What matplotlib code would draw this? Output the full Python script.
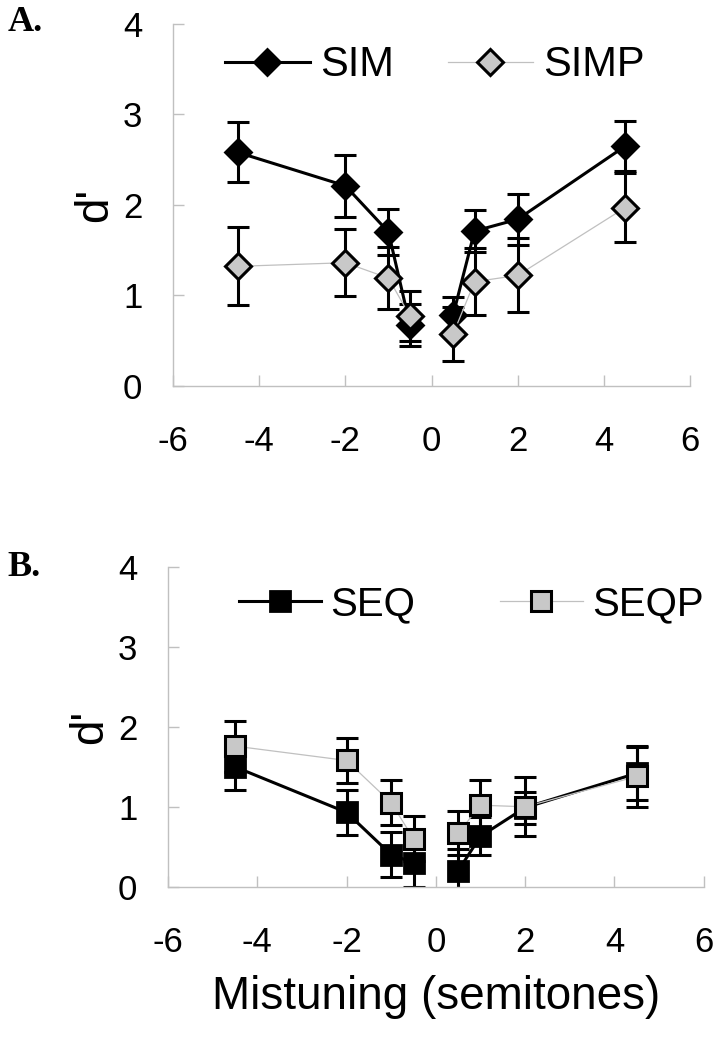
import matplotlib
matplotlib.use("Agg")
import matplotlib.pyplot as plt
import numpy as np

plt.rcParams['font.family'] = ['Liberation Sans', 'DejaVu Sans']
plt.rcParams['axes.unicode_minus'] = False

# mistuning values (semitones)
mistuning = [-4.5, -2, -1, -0.5, 0.5, 1, 2, 4.5]

# panel A
sim = [2.58, 2.21, 1.70, 0.67, 0.78, 1.71, 1.84, 2.65]
sim_err = [0.33, 0.34, 0.25, 0.23, 0.20, 0.23, 0.28, 0.28]
simp = [1.32, 1.36, 1.19, 0.77, 0.57, 1.15, 1.22, 1.97]
simp_err = [0.43, 0.37, 0.34, 0.28, 0.30, 0.37, 0.41, 0.38]

# panel B
seq = [1.50, 0.93, 0.40, 0.30, 0.20, 0.63, 0.99, 1.42]
seq_err = [0.29, 0.28, 0.28, 0.30, 0.27, 0.24, 0.20, 0.33]
seqp = [1.76, 1.58, 1.05, 0.60, 0.67, 1.02, 1.00, 1.38]
seqp_err = [0.32, 0.28, 0.28, 0.28, 0.28, 0.31, 0.37, 0.38]

GRAY_FACE = '#c8c8c8'
AXIS_GRAY = '#c0c0c0'


def draw_panel(ax, y1, e1, y2, e2, names, marker, ms, legx, legfs, colspace):
    x = np.array(mistuning)
    # error bars under everything
    for y, e in [(y1, e1), (y2, e2)]:
        ax.errorbar(x, y, yerr=e, fmt='none', ecolor='black',
                    elinewidth=2.2, capsize=8, capthick=2.2, zorder=1)
    # lines are broken between the negative and positive mistunings
    y1 = np.array(y1)
    y2 = np.array(y2)
    for i, part in enumerate([x < 0, x > 0]):
        ax.plot(x[part], y1[part], color='black', lw=2.2, marker=marker, ms=ms,
                mfc='black', mec='black', mew=2,
                label=names[0] if i == 0 else None, zorder=3)
    for i, part in enumerate([x < 0, x > 0]):
        ax.plot(x[part], y2[part], color=AXIS_GRAY, lw=0.9, marker=marker, ms=ms,
                mfc=GRAY_FACE, mec='black', mew=2.2,
                label=names[1] if i == 0 else None, zorder=4)

    ax.set_xlim(-6, 6)
    ax.set_ylim(0, 4)
    ax.set_xticks(range(-6, 7, 2))
    ax.set_yticks(range(0, 5))
    for s in ['top', 'right']:
        ax.spines[s].set_visible(False)
    for s in ['left', 'bottom']:
        ax.spines[s].set_color(AXIS_GRAY)
        ax.spines[s].set_linewidth(1.0)
    ax.tick_params(axis='both', direction='in', length=8, width=1.0,
                   color=AXIS_GRAY, labelsize=25)
    ax.tick_params(axis='y', pad=22)
    ax.tick_params(axis='x', pad=28)
    ax.set_ylabel("d'", fontsize=33, labelpad=4)

    ax.legend(loc='center left', bbox_to_anchor=(legx, 0.885), ncol=2,
              frameon=False, fontsize=legfs, handlelength=2.05,
              handletextpad=0.23, columnspacing=colspace,
              borderaxespad=0, borderpad=0)


fig = plt.figure(figsize=(7.21, 10.37), dpi=100)
ax_a = fig.add_axes([0.240, 0.628, 0.717, 0.349])
ax_b = fig.add_axes([0.233, 0.145, 0.743, 0.308])

draw_panel(ax_a, sim, sim_err, simp, simp_err, ['SIM', 'SIMP'], 'D', 13,
           0.10, 30, 1.3)
draw_panel(ax_b, seq, seq_err, seqp, seqp_err, ['SEQ', 'SEQP'], 's', 15,
           0.132, 29, 2.1)

ax_b.set_xlabel('Mistuning (semitones)', fontsize=33, labelpad=12)

fig.text(0.010, 0.978, 'A.', fontsize=26, fontweight='bold',
         family=['Liberation Serif', 'DejaVu Serif'], va='center')
fig.text(0.010, 0.453, 'B.', fontsize=26, fontweight='bold',
         family=['Liberation Serif', 'DejaVu Serif'], va='center')

fig.savefig('out.png', dpi=100)
